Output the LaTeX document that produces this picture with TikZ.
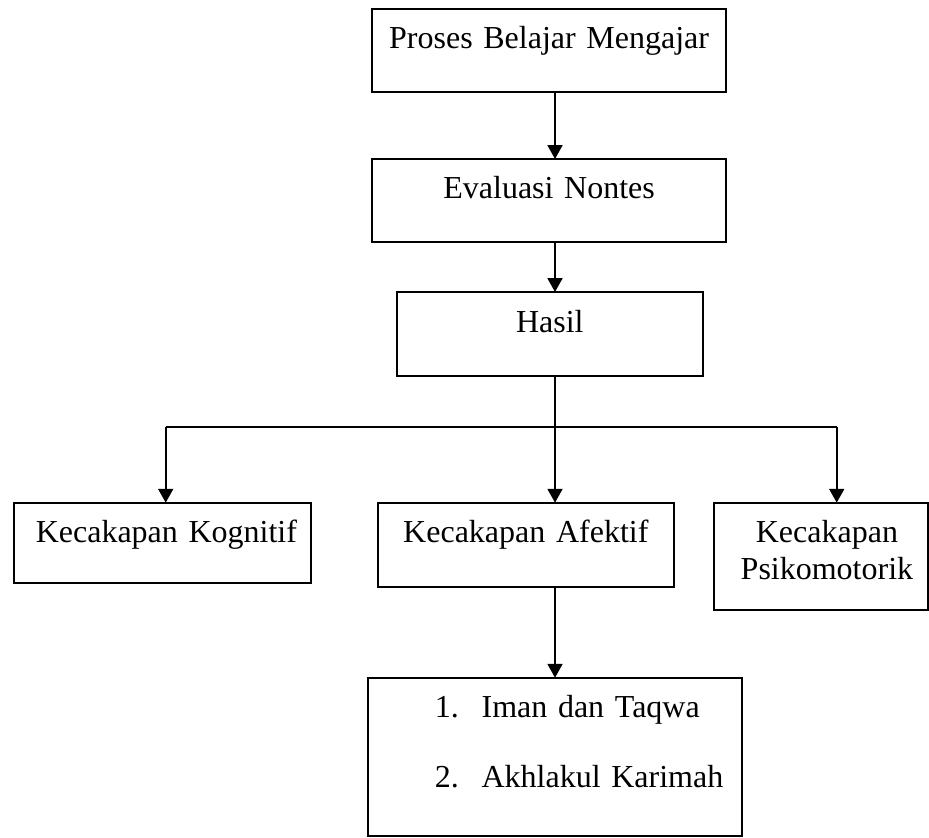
\documentclass[tikz,border=0pt]{standalone}
\usepackage{fontspec}
\setmainfont{Liberation Serif}
\usetikzlibrary{arrows.meta}

\tikzset{
  kotak/.style={draw, rectangle, line width=0.75pt, inner sep=0pt, outer sep=0pt,
    anchor=north west, align=center, text height=15pt,
    font=\fontsize{12pt}{13.8pt}\selectfont},
  panah/.style={-{Triangle[width=5.6pt,length=5.2pt]}, line width=0.75pt},
  garis/.style={line width=0.75pt}
}
\newcommand{\butir}[2]{\hspace*{25.1pt}\makebox[17.5pt][l]{#1}#2}

\begin{document}
\begin{tikzpicture}[x=0.375pt, y=-0.375pt]
  \useasboundingbox (0,0) rectangle (929,837);

  % Kotak atas
  \node[kotak, text width=132.6pt, text depth=16.1pt] (proses) at (372.3,9) {Proses Belajar Mengajar};
  \node[kotak, text width=132.6pt, text depth=16.1pt] (evaluasi) at (372.3,159) {Evaluasi Nontes};
  \node[kotak, text width=114.8pt, text depth=16.5pt] (hasil) at (396.7,292) {Hasil};

  % Kotak kecakapan
  \node[kotak, text width=111.3pt, text depth=15pt] (kognitif) at (14,502.7) {\hspace*{3pt}Kecakapan Kognitif};
  \node[kotak, text width=111.1pt, text depth=16.5pt] (afektif) at (377.7,502.7) {Kecakapan Afektif};
  \node[kotak, text width=80.2pt, text depth=25.2pt] (psiko) at (714,502.7)
    {\hspace*{4.5pt}Kecakapan\\\hspace*{4.5pt}Psikomotorik};

  % Daftar afektif
  \node[kotak, text width=140.2pt, text depth=44.4pt, align=left,
    font=\fontsize{12pt}{26pt}\selectfont] (daftar) at (368,677.7)
    {\butir{1.}{Iman dan Taqwa}\\\butir{2.}{Akhlakul Karimah}};

  % Titik cabang
  \coordinate (cabang) at (555,426.7);
  \coordinate (kiri) at (165.7,426.7);
  \coordinate (kanan) at (836.7,426.7);

  % Panah
  \draw[panah] (proses.south -| cabang) -- (cabang |- evaluasi.north);
  \draw[panah] (evaluasi.south -| cabang) -- (cabang |- hasil.north);
  \draw[garis] (hasil.south -| cabang) -- (cabang);
  \draw[garis] (kiri) -- (kanan);
  \draw[panah] (kiri) -- (kiri |- kognitif.north);
  \draw[panah] (cabang) -- (cabang |- afektif.north);
  \draw[panah] (kanan) -- (kanan |- psiko.north);
  \draw[panah] (afektif.south -| cabang) -- (cabang |- daftar.north);

\end{tikzpicture}
\end{document}
